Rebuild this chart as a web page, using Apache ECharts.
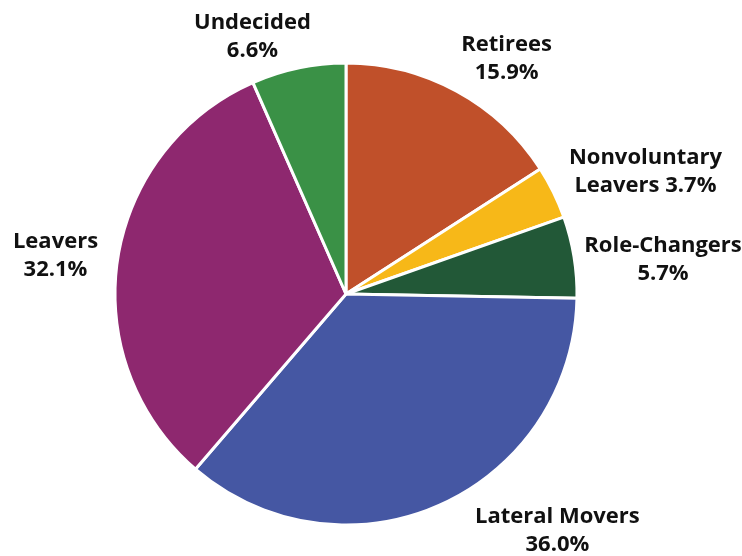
<!DOCTYPE html>
<html>
<head>
<meta charset="utf-8">
<style>
  html, body { margin: 0; padding: 0; background: #ffffff; }
  #chart { width: 742px; height: 556px; }
</style>
<script src="https://cdn.jsdelivr.net/npm/echarts@6/dist/echarts.min.js"></script>
</head>
<body>
<div id="chart"></div>
<script>
// Share of workforce by career intention (percent)
const categories = ['Retirees', 'Nonvoluntary\nLeavers', 'Role-Changers', 'Lateral Movers', 'Leavers', 'Undecided'];
const shares = [15.9, 3.7, 5.7, 36.0, 32.1, 6.6];
const sliceColors = ['#C0502A', '#F7B818', '#225837', '#4557A3', '#8E286F', '#3A9146'];

// Pie geometry (pixels) and label nudges from each slice's outer mid-point
const pieCenter = [346, 294];
const pieRadius = 231;
const labelNudge = [[50, -32], [92, -21], [89, 3], [117, 26], [-62, -4], [-46, -31]];

const total = shares.reduce((a, b) => a + b, 0);
const midAngles = [];
let acc = 0;
shares.forEach(v => {
  const mid = 90 - (acc + v / 2) / total * 360;
  midAngles.push(mid * Math.PI / 180);
  acc += v;
});

const chart = echarts.init(document.getElementById('chart'), null, { renderer: 'canvas' });

chart.setOption({
  backgroundColor: '#ffffff',
  animation: false,
  series: [{
    type: 'pie',
    center: pieCenter,
    radius: pieRadius,
    startAngle: 90,
    clockwise: true,
    avoidLabelOverlap: false,
    data: categories.map((name, i) => ({
      name: name,
      value: shares[i],
      itemStyle: { color: sliceColors[i] }
    })),
    itemStyle: { borderColor: '#ffffff', borderWidth: 3 },
    label: {
      show: true,
      position: 'outside',
      fontFamily: '"Open Sans", sans-serif',
      fontWeight: 700,
      fontSize: 22,
      lineHeight: 28,
      color: '#111111',
      align: 'center',
      formatter: p => {
        const v = p.value.toFixed(1) + '%';
        return p.name.indexOf('\n') >= 0 ? p.name + ' ' + v : p.name + '\n' + v;
      }
    },
    labelLine: { show: false },
    labelLayout: params => {
      const i = params.dataIndex;
      const a = midAngles[i];
      return {
        x: pieCenter[0] + pieRadius * Math.cos(a) + labelNudge[i][0],
        y: pieCenter[1] - pieRadius * Math.sin(a) + labelNudge[i][1],
        align: 'center',
        verticalAlign: 'middle'
      };
    },
    emphasis: { disabled: true }
  }]
});
</script>
</body>
</html>
